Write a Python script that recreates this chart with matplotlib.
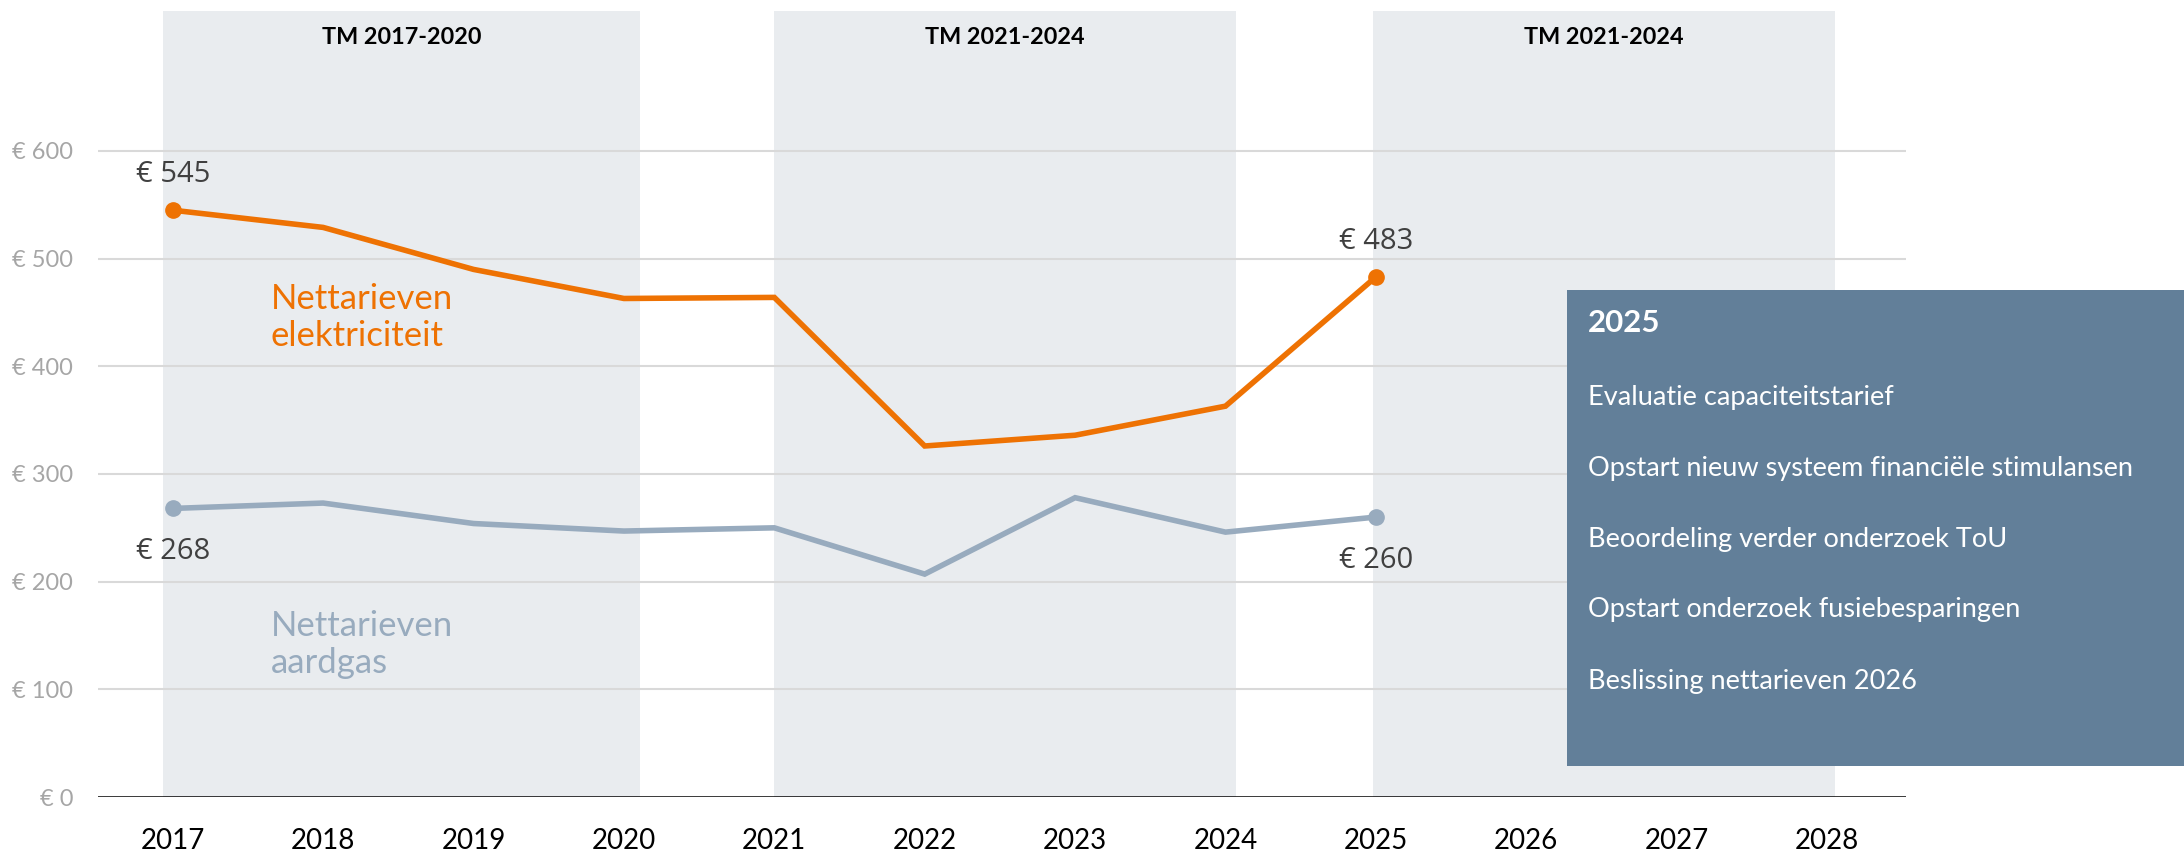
import matplotlib
matplotlib.use("Agg")
import matplotlib.pyplot as plt

years = [2017, 2018, 2019, 2020, 2021, 2022, 2023, 2024, 2025]
elektriciteit = [545, 529, 490, 463, 464, 326, 336, 363, 483]
aardgas = [268, 273, 254, 247, 250, 207, 278, 246, 260]
tick_years = list(range(2017, 2029))
y_ticks = [0, 100, 200, 300, 400, 500, 600]

periods = [(2016.935, 2020.11, "TM 2017-2020"),
           (2021.0, 2024.07, "TM 2021-2024"),
           (2024.98, 2028.05, "TM 2021-2024")]

box_title = "2025"
box_items = ["Evaluatie capaciteitstarief",
             "Opstart nieuw systeem financiële stimulansen",
             "Beoordeling verder onderzoek ToU",
             "Opstart onderzoek fusiebesparingen",
             "Beslissing nettarieven 2026"]

ORANGE = "#ee7203"
GAS = "#98abbe"
BAND = "#e9ecef"
BOX = "#627f99"

plt.rcParams["font.family"] = ["Lato", "DejaVu Sans"]

W, H = 2184, 852
fig = plt.figure(figsize=(W / 100, H / 100), dpi=100)
ax = fig.add_axes([98 / W, 55 / H, 1808 / W, 786 / H])
ax.set_xlim(2016.503, 2028.525)
ax.set_ylim(0, 730)

# shaded tariff periods
for x0, x1, label in periods:
    ax.axvspan(x0, x1, color=BAND, zorder=0, lw=0)
    ax.text((x0 + x1) / 2, 705, label, ha="center", va="center",
            fontsize=16.8, fontweight="bold", color="black")

for t in y_ticks[1:]:
    ax.axhline(t, color="#d9d9d9", lw=1.5, zorder=1)
ax.axhline(0, color="black", lw=1.8, zorder=3)

ax.plot(years, elektriciteit, color=ORANGE, lw=4, zorder=4, solid_joinstyle="miter")
ax.plot(years, aardgas, color=GAS, lw=4, zorder=4, solid_joinstyle="miter")
for series, c in [(elektriciteit, ORANGE), (aardgas, GAS)]:
    ax.plot([years[0], years[-1]], [series[0], series[-1]], "o", color=c, ms=11, zorder=5)

lab = dict(ha="center", va="center", fontsize=21, color="#404040", family=["Open Sans", "DejaVu Sans"])
ax.text(years[0], elektriciteit[0] + 33, f"€ {elektriciteit[0]}", **lab)
ax.text(years[-1], elektriciteit[-1] + 33, f"€ {elektriciteit[-1]}", **lab)
ax.text(years[0], aardgas[0] - 40, f"€ {aardgas[0]}", **lab)
ax.text(years[-1], aardgas[-1] - 40, f"€ {aardgas[-1]}", **lab)

ax.text(2017.65, 445, "Nettarieven\nelektriciteit", ha="left", va="center",
        fontsize=25, color=ORANGE, linespacing=1.2)
ax.text(2017.65, 142, "Nettarieven\naardgas", ha="left", va="center",
        fontsize=25, color=GAS, linespacing=1.2)

ax.set_xticks(tick_years)
ax.set_xticklabels([str(y) for y in tick_years], fontsize=20)
ax.set_yticks(y_ticks)
ax.set_yticklabels([f"€ {v}" for v in y_ticks], fontsize=17, color="#a6a6a6")
ax.tick_params(axis="x", length=0, pad=22)
ax.tick_params(axis="y", length=0, pad=18)
for s in ax.spines.values():
    s.set_visible(False)

# 2025 info box
bx = fig.add_axes([1567 / W, 86 / H, 617 / W, 476 / H])
bx.set_facecolor(BOX)
bx.set_xticks([])
bx.set_yticks([])
for s in bx.spines.values():
    s.set_visible(False)
fig.text(1588 / W, 1 - 323 / H, box_title, ha="left", va="center",
         fontsize=22.5, fontweight="bold", color="white")
for i, item in enumerate(box_items):
    fig.text(1588 / W, 1 - (397 + i * 71) / H, item, ha="left", va="center",
             fontsize=19.5, color="white")

fig.savefig("out.png", dpi=100)
